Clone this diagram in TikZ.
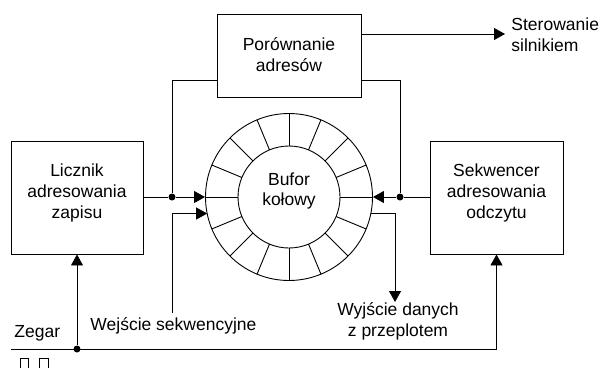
\documentclass[tikz,border=0pt]{standalone}
\usepackage{fontspec}
\setmainfont{Liberation Sans}
\usetikzlibrary{arrows.meta,calc}
\begin{document}
\begin{tikzpicture}[x=1pt,y=-1pt,
  line width=0.9pt,
  every node/.style={font=\fontsize{17.5}{20.8}\selectfont, inner sep=0pt},
  lbl/.style={align=center},
  tip/.style={-{Triangle[length=11pt,width=12pt]}},
  junction/.style={circle, fill=black, minimum size=7pt, inner sep=0pt}
]
\useasboundingbox (0,0) rectangle (600,367);

% processing blocks
\node[draw, minimum width=144pt, minimum height=83pt] (cmp) at (289,55.5) {};
\node[lbl] (cmptxt) at (289,55) {Porównanie\\adresów};
\node[draw, minimum width=132pt, minimum height=113pt] (wr) at (77,197.5) {};
\node[lbl] (wrtxt) at (77,193) {Licznik\\adresowania\\zapisu};
\node[draw, minimum width=133pt, minimum height=113pt] (rd) at (496.5,197.5) {};
\node[lbl] (rdtxt) at (496.5,193) {Sekwencer\\adresowania\\odczytu};

% ring buffer: outer and inner circle with 16 cells
\coordinate (c) at (289,197);
\node[draw, circle, minimum size=167pt] (ring) at (c) {};
\node[draw, circle, minimum size=102pt] (core) at (c) {};
\foreach \a in {0,22.5,...,337.5}
  \draw ($(c)+(\a:51pt)$) -- ($(c)+(\a:83.5pt)$);
\node[lbl] (buftxt) at (289,191) {Bufor\\kołowy};

% junctions
\node[junction] (jl) at (172,197) {};
\node[junction] (jr) at (400,197) {};
\node[junction] (jc) at (77,349) {};

% write address path
\draw (wr.east |- jl) -- (jl);
\draw[tip] (jl) -- (ring.west);
\draw ($(cmp.west)+(0,24.5)$) -| (jl);

% read address path
\draw (rd.west |- jr) -- (jr);
\draw[tip] (jr) -- (ring.east);
\draw ($(cmp.east)+(0,24.5)$) -| (jr);

% motor control output
\coordinate (motor) at (505,34);
\draw[tip] (cmp.east |- motor) -- (motor);
\node[anchor=west, align=left] (motortxt) at (511,35) {Sterowanie\\silnikiem};

% sequential input
\coordinate (inbot) at (172,313);
\coordinate (inring) at ($(c)+(191.4:83.5pt)$);
\draw[tip] (inbot) |- (inring);
\node[anchor=west] (intxt) at (90,326) {Wejście sekwencyjne};

% interleaved output
\coordinate (outring) at ($(c)+(-11.1:83.5pt)$);
\coordinate (outbot) at (395,302);
\draw[tip] (outring) -| (outbot);
\node[lbl] (outtxt) at (398,321.5) {Wyjście danych\\z przeplotem};

% clock line
\coordinate (clkl) at (11,349);
\coordinate (clkr) at (496.5,349);
\node[anchor=west] (clktxt) at (14,333) {Zegar};
\draw (clkl) -- (clkr);
\draw[tip] (clkr) -- (rd.south);
\draw[tip] (jc) -- (wr.south);

% two small marks under the clock label
\draw[line width=0.6pt] (20,358) rectangle (28,370);
\draw[line width=0.6pt] (39,358) rectangle (48,370);
\end{tikzpicture}
\end{document}
